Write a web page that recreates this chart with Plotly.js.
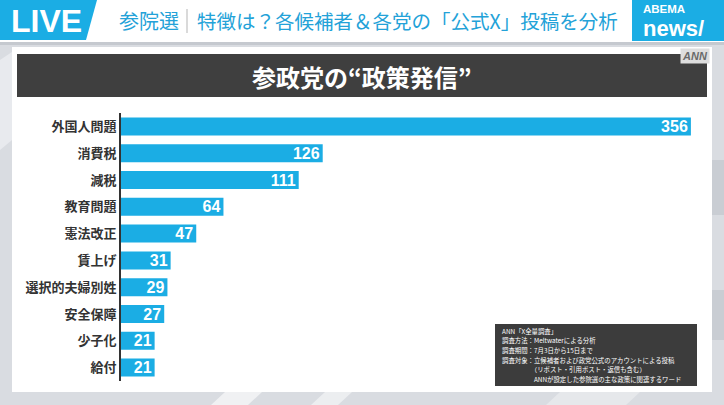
<!DOCTYPE html>
<html>
<head>
<meta charset="utf-8">
<script src="https://cdn.plot.ly/plotly-3.0.1.min.js"></script>
<style>
html,body{margin:0;padding:0;background:#d9dce1;}
#chart{width:724px;height:405px;}
</style>
</head>
<body>
<div id="chart"></div>
<script>
// ---- data ----
const categories = ['外国人問題','消費税','減税','教育問題','憲法改正','賃上げ','選択的夫婦別姓','安全保障','少子化','給付'];
const values = [356,126,111,64,47,31,29,27,21,21];
const chartTitle = '参政党の“政策発信”';
const headerPrefix = '参院選';
const headerTitle = '特徴は？各候補者＆各党の「公式X」投稿を分析';
const noteLines = [
  'ANN「X全量調査」',
  '調査方法：Meltwaterによる分析',
  '調査期間：7月3日から15日まで',
  '調査対象：立候補者および政党公式のアカウントによる投稿',
  '　　　　　（リポスト・引用ポスト・返信も含む）',
  '　　　　　ANNが設定した参院選の主な政策に関連するワード'
];

// ---- layout helpers (pixel -> paper) ----
const W = 724, H = 405;
const M = {l:121, r:23, t:113, b:24};
const PW = W - M.l - M.r, PH = H - M.t - M.b;
const X = px => (px - M.l) / PW;
const Y = py => (H - M.b - py) / PH;

const CJK = '"Noto Sans CJK JP", "Noto Sans", sans-serif';
const CYAN = '#1badE4';

function rect(x0,y0,x1,y1,fill,extra){
  return Object.assign({type:'rect', xref:'paper', yref:'paper', x0:X(x0), x1:X(x1), y0:Y(y0), y1:Y(y1),
    fillcolor:fill, line:{width:0}, layer:'below'}, extra||{});
}
function poly(pts,fill,opacity){
  const d = pts.map((p,i)=>(i?'L':'M')+X(p[0])+','+Y(p[1])).join(' ')+' Z';
  return {type:'path', xref:'paper', yref:'paper', path:d, fillcolor:fill, line:{width:0}, layer:'below', opacity:opacity==null?1:opacity};
}

const shapes = [
  // studio streaks
  poly([[225,392],[262,392],[248,405],[211,405]],'#ffffff',0.6),
  poly([[325,392],[352,392],[338,405],[311,405]],'#ffffff',0.5),
  poly([[560,392],[640,392],[626,405],[546,405]],'#eef0f2',0.6),
  poly([[0,60],[12,52],[12,140],[0,150]],'#eef0f3',0.7),
  rect(712,160,724,215,'#c9cdd3'),
  rect(712,290,724,340,'#c9cdd3'),
  // header
  rect(0,0,724,42,'#ffffff'),
  rect(0,42,724,45,'#c5c9cf'),
  poly([[0,0],[97,0],[86,40],[0,40]],CYAN,1),
  rect(632,0,724,41,CYAN),
  {type:'line', xref:'paper', yref:'paper', x0:X(187), x1:X(187), y0:Y(9), y1:Y(33), line:{color:'#b5b5b5', width:1}, layer:'below'},
  // white panel
  rect(12,47,712,392,'#ffffff'),
  // title bar
  rect(17,54,707,97,'#3f3f3f'),
  // note box
  rect(495,324,697,386,'#3c3c3c')
];

const annotations = [
  {text:'<b>LIVE</b>', x:X(46), y:Y(21), font:{family:'"Liberation Sans", Arial, sans-serif', size:32, color:'#ffffff'}},
  {text:headerPrefix, x:X(149), y:Y(21), font:{family:CJK, size:20, color:'#23a2d8'}},
  {text:headerTitle, x:X(407), y:Y(21), font:{family:CJK, size:19.5, color:'#23a2d8'}},
  {text:'<b><span style="font-size:11.5px">ABEMA</span><br><span style="font-size:22px">news/</span></b>',
   x:X(641), y:Y(22), xanchor:'left', align:'left',
   font:{family:'"Liberation Sans", Arial, sans-serif', size:18, color:'#ffffff'}},
  {text:'<b>'+chartTitle+'</b>', x:X(362), y:Y(76), font:{family:CJK, size:24, color:'#ffffff'}},
  {text:'<b><i>ANN</i></b>', x:X(695), y:Y(56), font:{family:'"Liberation Sans", Arial, sans-serif', size:11, color:'#6a6a6a'}, bgcolor:'#dedede', borderpad:1}
];
noteLines.forEach((t,i)=>{
  annotations.push({text:t, x:X(500), y:Y(331 + i*9.7), xanchor:'left', align:'left',
    font:{family:CJK, size:6.4, color:'#ffffff'}});
});
annotations.forEach(a=>{
  a.xref='paper'; a.yref='paper'; a.showarrow=false;
  if(!a.xanchor) a.xanchor='center';
  a.yanchor='middle';
});

const trace = {
  type:'bar', orientation:'h',
  y: categories, x: values,
  width: 0.67,
  marker:{color:CYAN, line:{width:0}},
  text: values.map(String),
  textposition:'inside', insidetextanchor:'end', textangle:0, constraintext:'none',
  textfont:{family:'"Liberation Sans", Arial, sans-serif', size:16, color:'#ffffff', weight:700},
  hoverinfo:'none', cliponaxis:false
};

const layout = {
  width:W, height:H,
  margin:M,
  paper_bgcolor:'#d9dce1',
  plot_bgcolor:'rgba(0,0,0,0)',
  showlegend:false,
  uniformtext:{mode:false},
  xaxis:{range:[0,362.3], visible:false, fixedrange:true},
  yaxis:{type:'category', range:[9.5,-0.5], showline:true, linecolor:'#333333', linewidth:2,
    ticks:'', showgrid:false, zeroline:false,
    tickfont:{family:CJK, size:13, color:'#333333', weight:700}, fixedrange:true},
  shapes: shapes,
  annotations: annotations,
  bargap:0.33
};

Plotly.newPlot('chart',[trace],layout,{staticPlot:true, displayModeBar:false});
</script>
</body>
</html>
